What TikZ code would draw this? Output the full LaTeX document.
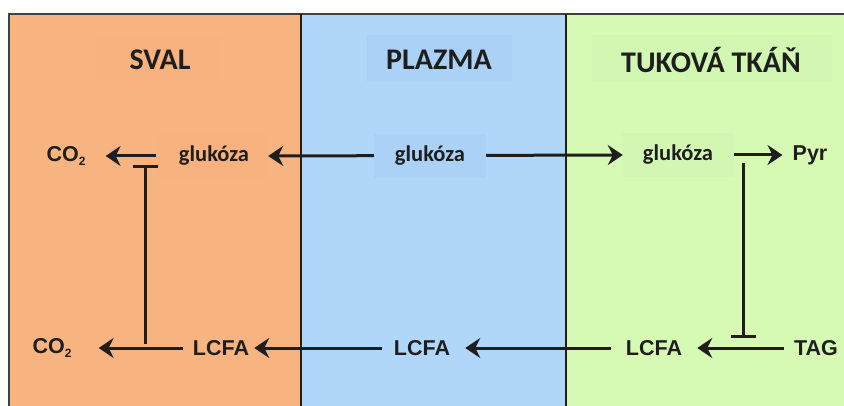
\documentclass[tikz,border=0pt]{standalone}
\usepackage{fontspec}
\setmainfont{Carlito}
\newfontfamily\arialb{Liberation Sans}
\usetikzlibrary{arrows.meta}
\definecolor{orng}{RGB}{248,180,128}
\definecolor{orngbox}{RGB}{247,178,127}
\definecolor{blu}{RGB}{176,214,250}
\definecolor{blubox}{RGB}{171,210,246}
\definecolor{grn}{RGB}{214,250,180}
\definecolor{grnbox}{RGB}{210,247,178}
\definecolor{ink}{RGB}{30,30,30}
\newcommand{\subtwo}{\raisebox{-4pt}{\fontsize{12}{12}\selectfont 2}}
\tikzset{
  title/.style={font=\fontsize{30}{34}\selectfont\bfseries, text=ink, inner sep=0pt},
  glu/.style={font=\fontsize{22.5}{26}\selectfont\bfseries, text=ink, minimum width=112pt, minimum height=44pt, inner sep=0pt},
  lab/.style={font=\arialb\fontsize{21.5}{24}\selectfont\bfseries, text=ink, inner sep=0pt},
  tip/.tip={Stealth[length=15pt,width=20pt,inset=5pt]},
  conn/.style={draw=ink, line width=3pt},
  arr/.style={conn, -tip},
  inh/.style={conn, -{Bar[width=25pt,line width=3pt]}},
}
\begin{document}
\begin{tikzpicture}[x=1pt,y=-1pt]
\useasboundingbox (0,0) rectangle (844,406);
\fill[white] (0,0) rectangle (844,406);
% panels
\fill[orng] (9,14) rectangle (301,406);
\fill[blu] (301,14) rectangle (566,406);
\fill[grn] (566,14) rectangle (844,406);
\draw[ink!85, line width=2pt] (9,406) -- (9,14) -- (844,14);
\draw[ink, line width=2pt] (301,14) -- (301,406);
\draw[ink, line width=2pt] (566,14) -- (566,406);
% title boxes
\fill[orngbox] (95,35) rectangle (222,81);
\fill[blubox] (367,35) rectangle (512,82);
\fill[grnbox] (592,35) rectangle (832,82);
\node[title] (tsval) at (160,60) {SVAL};
\node[title] (tplaz) at (439,60) {PLAZMA};
\node[title] (ttuk) at (711,60) {TUKOVÁ TKÁŇ};
% glucose row
\node[glu, fill=orngbox] (gs) at (214,156) {glukóza};
\node[glu] (gp) at (430,156) {glukóza};
\node[glu, fill=grnbox] (gt) at (678,155) {glukóza};
\node[lab] (co2a) at (66,156) {CO\subtwo};
\node[lab] (pyr) at (810,155) {Pyr};
% LCFA row
\node[lab] (co2b) at (52,348) {CO\subtwo};
\node[lab] (ls) at (221,348) {LCFA};
\node[lab] (lp) at (422,348) {LCFA};
\node[lab] (lt) at (654,348) {LCFA};
\node[lab] (tag) at (816,348) {TAG};
% glucose arrows
\draw[conn, tip-tip] ([xshift=-2pt]gs.east) -- ([xshift=1pt]gt.west);
\node[glu, fill=blubox] at (gp) {glukóza};
\draw[arr, shorten >=20pt] ([xshift=-2pt]gs.west) -- (co2a.east);
\draw[arr, shorten >=10pt] (gt.east) -- (pyr.west);
% LCFA arrows
\draw[arr, shorten <=10pt, shorten >=27pt] (ls.west) -- (co2b.east);
\draw[arr, shorten <=12pt, shorten >=5pt] (lp.west) -- (ls.east);
\draw[arr, shorten <=15pt, shorten >=15pt] (lt.west) -- (lp.east);
\draw[arr, shorten <=10pt, shorten >=15pt] (tag.west) -- (lt.east);
% inhibition
\coordinate (ia) at (145,344);
\coordinate (ib) at (145,165);
\draw[inh] (ia) -- (ib);
\coordinate (ic) at (743,163);
\coordinate (id) at (743,338);
\draw[inh] (ic) -- (id);
\end{tikzpicture}
\end{document}
